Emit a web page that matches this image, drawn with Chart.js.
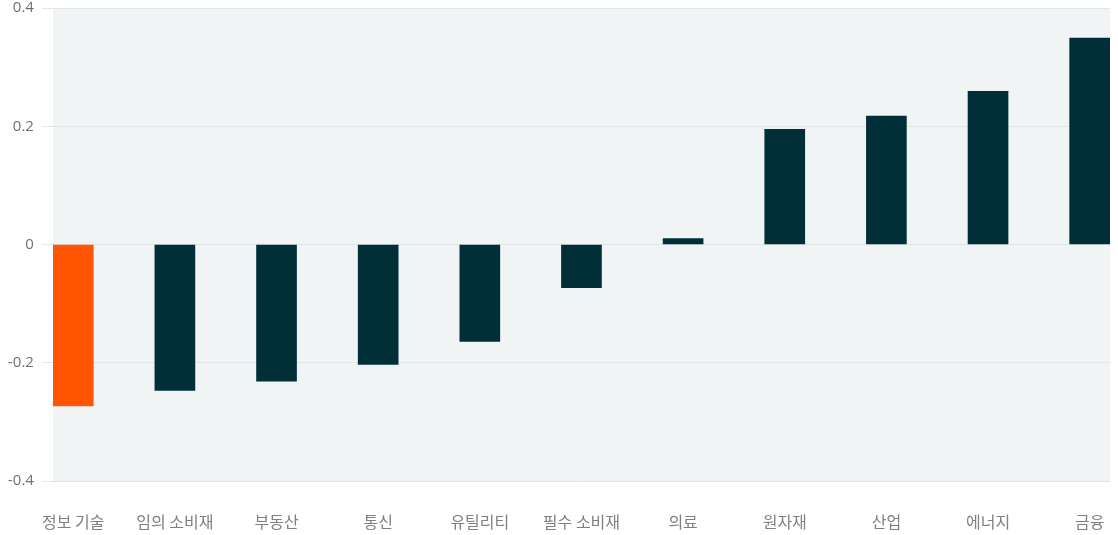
<!DOCTYPE html>
<html>
<head>
<meta charset="utf-8">
<script src="https://cdn.jsdelivr.net/npm/chart.js@4/dist/chart.umd.min.js"></script>
<style>
  html, body { margin: 0; padding: 0; background: #fff; }
  #wrap { width: 1118px; height: 535px; }
</style>
</head>
<body>
<div id="wrap"><canvas id="sectorChart" width="1118" height="535"></canvas></div>
<script>
const sectors = ["정보 기술", "임의 소비재", "부동산", "통신", "유틸리티", "필수 소비재", "의료", "원자재", "산업", "에너지", "금융"];
const sectorValues = [-0.273, -0.247, -0.231, -0.203, -0.164, -0.073, 0.010, 0.195, 0.217, 0.259, 0.349];
const barColors = ["#ff5400", "#002f38", "#002f38", "#002f38", "#002f38", "#002f38", "#002f38", "#002f38", "#002f38", "#002f38", "#002f38"];
const yTicks = [-0.4, -0.2, 0, 0.2, 0.4];

// light panel behind the plot
const panelBg = {
  id: 'panelBg',
  beforeDraw(chart) {
    const { ctx, chartArea } = chart;
    ctx.save();
    ctx.fillStyle = '#f0f4f5';
    ctx.fillRect(chartArea.left, chartArea.top, chartArea.right - chartArea.left, chartArea.bottom - chartArea.top);
    ctx.restore();
  }
};

new Chart(document.getElementById("sectorChart"), {
  type: 'bar',
  data: {
    datasets: [{
      data: sectorValues.map((v, i) => ({ x: i, y: v })),
      backgroundColor: barColors,
      borderWidth: 0,
      barThickness: 40
    }]
  },
  plugins: [panelBg],
  options: {
    responsive: false,
    animation: false,
    layout: { padding: { top: 8, right: 8, left: 0, bottom: 0 } },
    plugins: {
      legend: { display: false },
      tooltip: { enabled: false }
    },
    scales: {
      x: {
        type: 'linear',
        offset: false,
        min: -0.2,
        max: 10.2,
        grid: { display: false },
        border: { display: false },
        afterFit: (scale) => { scale.height = 54; scale.paddingLeft = 0; scale.paddingRight = 0; },
        ticks: {
          stepSize: 1,
          includeBounds: false,
          autoSkip: false,
          maxRotation: 0,
          padding: 23,
          color: '#808080',
          font: { family: "'Noto Sans CJK KR', 'Noto Sans', sans-serif", size: 16 },
          callback: (v) => Number.isInteger(v) ? sectors[v] : ''
        }
      },
      y: {
        min: -0.4,
        max: 0.4,
        afterBuildTicks: (scale) => { scale.ticks = yTicks.map(v => ({ value: v })); },
        afterFit: (scale) => { scale.paddingTop = 0; scale.paddingBottom = 0; },
        grid: { color: '#e1e5e7', lineWidth: 1, tickLength: 11 },
        border: { display: false },
        ticks: {
          padding: 8,
          color: '#707070',
          font: { family: "'Open Sans', sans-serif", size: 15 }
        }
      }
    }
  }
});
</script>
</body>
</html>
